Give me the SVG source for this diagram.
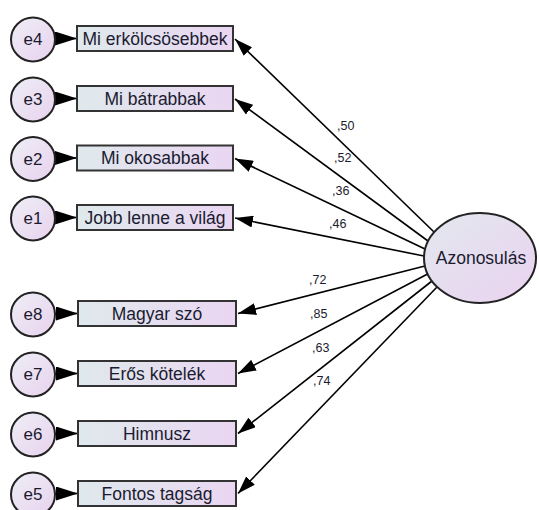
<svg xmlns="http://www.w3.org/2000/svg" width="539" height="510" viewBox="0 0 539 510">
<style>
.box{stroke:#333;stroke-width:2;fill:url(#gBox)}
.err{stroke:#222;stroke-width:2;fill:url(#gCirc)}
.lbl{font-family:"Liberation Sans",Arial,sans-serif;font-size:17.5px;fill:#1b1b30;text-anchor:middle;dominant-baseline:central}
.elbl{font-family:"Liberation Sans",Arial,sans-serif;font-size:17px;fill:#1b1b30;text-anchor:middle;dominant-baseline:central}
.coef{font-family:"Liberation Sans",Arial,sans-serif;font-size:12.5px;fill:#1b1b30}
.path{stroke:#000;stroke-width:1.6;fill:none;marker-end:url(#ah)}
.epath{stroke:#000;stroke-width:1.6;fill:none;marker-end:url(#ah2)}
</style>
<defs>
<linearGradient id="gBox" x1="0" y1="0" x2="1" y2="0">
<stop offset="0" stop-color="#dfe9ec"/>
<stop offset="1" stop-color="#ead6f2"/>
</linearGradient>
<linearGradient id="gCirc" x1="0" y1="0" x2="1" y2="1">
<stop offset="0" stop-color="#eeeef6"/>
<stop offset="1" stop-color="#e8d2ee"/>
</linearGradient>
<linearGradient id="gEll" x1="0" y1="0" x2="1" y2="1">
<stop offset="0" stop-color="#e2e8ee"/>
<stop offset="1" stop-color="#ead2f0"/>
</linearGradient>
<marker id="ah" viewBox="0 0 18 12" refX="18" refY="6" markerWidth="18" markerHeight="12" markerUnits="userSpaceOnUse" orient="auto">
<path d="M0,0 L18,6 L0,12 z" fill="#000"/>
</marker>
<marker id="ah2" viewBox="0 0 22 14" refX="22" refY="7" markerWidth="22" markerHeight="14" markerUnits="userSpaceOnUse" orient="auto">
<path d="M0,0 L22,7 L0,14 z" fill="#000"/>
</marker>
</defs>

<g id="connectors">
<line class="path" x1="434" y1="232" x2="235" y2="39"/>
<line class="path" x1="428" y1="241" x2="235" y2="99"/>
<line class="path" x1="425" y1="249" x2="235" y2="158.5"/>
<line class="path" x1="424" y1="256" x2="235" y2="218"/>
<line class="path" x1="425" y1="266" x2="238" y2="313.5"/>
<line class="path" x1="427.6" y1="274" x2="238" y2="373.5"/>
<line class="path" x1="432" y1="281" x2="238" y2="433.5"/>
<line class="path" x1="437" y1="287" x2="238" y2="493.5"/>
<line class="epath" x1="54" y1="38.5" x2="77" y2="38.5"/>
<line class="epath" x1="54" y1="98.5" x2="77" y2="98.5"/>
<line class="epath" x1="54" y1="158" x2="77" y2="158"/>
<line class="epath" x1="54" y1="217.5" x2="77" y2="217.5"/>
<line class="epath" x1="54" y1="313.5" x2="78" y2="313.5"/>
<line class="epath" x1="54" y1="373.5" x2="78" y2="373.5"/>
<line class="epath" x1="54" y1="433.5" x2="78" y2="433.5"/>
<line class="epath" x1="54" y1="493.5" x2="78" y2="493.5"/>
<text class="coef" x="337" y="130">,50</text>
<text class="coef" x="334" y="162">,52</text>
<text class="coef" x="332" y="195">,36</text>
<text class="coef" x="329" y="228">,46</text>
<text class="coef" x="309" y="284">,72</text>
<text class="coef" x="310" y="318">,85</text>
<text class="coef" x="312" y="352">,63</text>
<text class="coef" x="313" y="385">,74</text>
</g>

<g id="Azonosulas">
<ellipse cx="480" cy="258" rx="56" ry="45" fill="url(#gEll)" stroke="#222" stroke-width="2"/>
<text class="lbl" x="481" y="258">Azonosulás</text>
</g>

<g id="box_e4"><rect class="box" x="77" y="26" width="156" height="25"/><text class="lbl" x="155" y="38.5">Mi erkölcsösebbek</text></g>
<g id="box_e3"><rect class="box" x="77" y="86" width="156" height="25"/><text class="lbl" x="155" y="98.5">Mi bátrabbak</text></g>
<g id="box_e2"><rect class="box" x="77" y="145.5" width="156" height="25"/><text class="lbl" x="155" y="158">Mi okosabbak</text></g>
<g id="box_e1"><rect class="box" x="77" y="205" width="156" height="25"/><text class="lbl" x="155" y="217.5">Jobb lenne a világ</text></g>
<g id="box_e8"><rect class="box" x="78" y="301" width="158" height="25"/><text class="lbl" x="157" y="313.5">Magyar szó</text></g>
<g id="box_e7"><rect class="box" x="78" y="361" width="158" height="25"/><text class="lbl" x="157" y="373.5">Erős kötelék</text></g>
<g id="box_e6"><rect class="box" x="78" y="421" width="158" height="25"/><text class="lbl" x="157" y="433.5">Himnusz</text></g>
<g id="box_e5"><rect class="box" x="78" y="481" width="158" height="25"/><text class="lbl" x="157" y="493.5">Fontos tagság</text></g>

<g id="e4"><circle class="err" cx="33" cy="39.5" r="22"/><text class="elbl" x="33" y="39.5">e4</text></g>
<g id="e3"><circle class="err" cx="33" cy="99.5" r="22"/><text class="elbl" x="33" y="99.5">e3</text></g>
<g id="e2"><circle class="err" cx="33" cy="159" r="22"/><text class="elbl" x="33" y="159">e2</text></g>
<g id="e1"><circle class="err" cx="33" cy="218.5" r="22"/><text class="elbl" x="33" y="218.5">e1</text></g>
<g id="e8"><circle class="err" cx="33" cy="314.5" r="22"/><text class="elbl" x="33" y="314.5">e8</text></g>
<g id="e7"><circle class="err" cx="33" cy="374.5" r="22"/><text class="elbl" x="33" y="374.5">e7</text></g>
<g id="e6"><circle class="err" cx="33" cy="434.5" r="22"/><text class="elbl" x="33" y="434.5">e6</text></g>
<g id="e5"><circle class="err" cx="33" cy="494.5" r="22"/><text class="elbl" x="33" y="494.5">e5</text></g>
</svg>
